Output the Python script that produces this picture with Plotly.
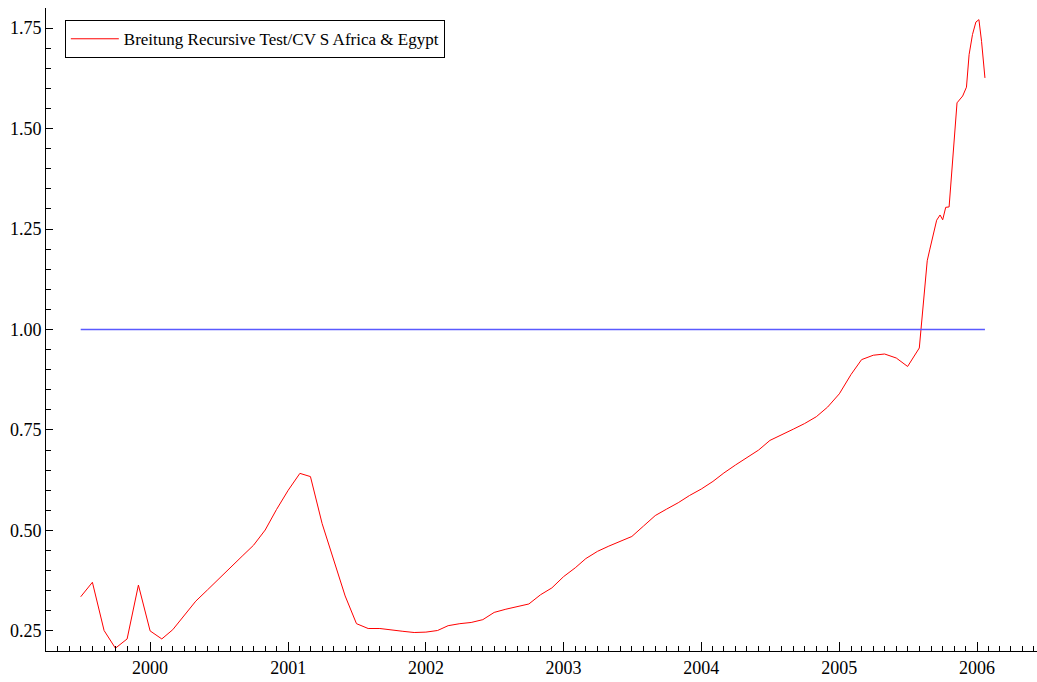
import plotly.graph_objects as go

# monthly readings first, then the denser readings at the end of the sample
dates = [
    "1999-07-01", "1999-08-01", "1999-09-01", "1999-10-01", "1999-11-01", "1999-12-01",
    "2000-01-01", "2000-02-01", "2000-03-01", "2000-04-01", "2000-05-01", "2000-06-01",
    "2000-07-01", "2000-08-01", "2000-09-01", "2000-10-01", "2000-11-01", "2000-12-01",
    "2001-01-01", "2001-02-01", "2001-03-01", "2001-04-01", "2001-05-01", "2001-06-01",
    "2001-07-01", "2001-08-01", "2001-09-01", "2001-10-01", "2001-11-01", "2001-12-01",
    "2002-01-01", "2002-02-01", "2002-03-01", "2002-04-01", "2002-05-01", "2002-06-01",
    "2002-07-01", "2002-08-01", "2002-09-01", "2002-10-01", "2002-11-01", "2002-12-01",
    "2003-01-01", "2003-02-01", "2003-03-01", "2003-04-01", "2003-05-01", "2003-06-01",
    "2003-07-01", "2003-08-01", "2003-09-01", "2003-10-01", "2003-11-01", "2003-12-01",
    "2004-01-01", "2004-02-01", "2004-03-01", "2004-04-01", "2004-05-01", "2004-06-01",
    "2004-07-01", "2004-08-01", "2004-09-01", "2004-10-01", "2004-11-01", "2004-12-01",
    "2005-01-01", "2005-02-01", "2005-03-01", "2005-04-01", "2005-05-01", "2005-06-01",
    "2005-07-01", "2005-08-01",
    "2005-08-22", "2005-08-29", "2005-09-04", "2005-09-16", "2005-09-25", "2005-10-02",
    "2005-10-10", "2005-10-19", "2005-11-09", "2005-11-24", "2005-12-04", "2005-12-11",
    "2005-12-20", "2005-12-29", "2006-01-06", "2006-01-13", "2006-01-22",
]

breitung = [
    0.335, 0.371, 0.251, 0.207, 0.230, 0.364,
    0.250, 0.230, 0.253, 0.290, 0.324, 0.352,
    0.380, 0.408, 0.436, 0.463, 0.501, 0.552,
    0.600, 0.642, 0.634, 0.517, 0.427, 0.337,
    0.268, 0.256, 0.256, 0.252, 0.249, 0.246,
    0.247, 0.251, 0.263, 0.268, 0.271, 0.278,
    0.296, 0.304, 0.311, 0.317, 0.340, 0.357,
    0.385, 0.407, 0.430, 0.448, 0.461, 0.473,
    0.485, 0.511, 0.537, 0.553, 0.569, 0.587,
    0.603, 0.622, 0.643, 0.663, 0.681, 0.700,
    0.724, 0.739, 0.752, 0.766, 0.783, 0.807,
    0.840, 0.888, 0.925, 0.936, 0.939, 0.929,
    0.908, 0.954,
    1.171, 1.200, 1.225, 1.272, 1.285, 1.273,
    1.304, 1.305, 1.564, 1.581, 1.603, 1.684,
    1.734, 1.765, 1.771, 1.717, 1.626,
]

critical_value = 1.0
series_name = "Breitung Recursive Test/CV S Africa & Egypt"

fig = go.Figure()
fig.add_trace(
    go.Scatter(
        x=dates,
        y=breitung,
        mode="lines",
        name=series_name,
        line=dict(color="#ff0000", width=1),
    )
)
fig.add_trace(
    go.Scatter(
        x=[dates[0], dates[-1]],
        y=[critical_value, critical_value],
        mode="lines",
        showlegend=False,
        line=dict(color="#5a5aff", width=1.4),
    )
)

fig.update_layout(
    width=1037,
    height=682,
    autosize=False,
    margin=dict(l=46, r=0, t=8, b=31),
    paper_bgcolor="white",
    plot_bgcolor="white",
    font=dict(family="Liberation Serif", size=18, color="black"),
    legend=dict(
        x=0.019,
        y=0.981,
        xanchor="left",
        yanchor="top",
        bordercolor="black",
        borderwidth=1,
        bgcolor="white",
        itemwidth=48,
        font=dict(size=17),
    ),
    xaxis=dict(
        type="date",
        range=["1999-03-31", "2006-06-09"],
        automargin=False,
        showline=True,
        linecolor="black",
        linewidth=1,
        showgrid=False,
        zeroline=False,
        ticks="inside",
        ticklen=9,
        tickcolor="black",
        tick0="2000-01-01",
        dtick="M12",
        tickformat="%Y",
        minor=dict(ticks="inside", ticklen=5, tickcolor="black", dtick="M1", showgrid=False),
    ),
    yaxis=dict(
        range=[0.2, 1.8],
        automargin=False,
        showline=True,
        linecolor="black",
        linewidth=1,
        showgrid=False,
        zeroline=False,
        ticks="inside",
        ticklen=7,
        tickcolor="black",
        tick0=0.25,
        dtick=0.25,
        tickformat=".2f",
        minor=dict(ticks="inside", ticklen=5, tickcolor="black", tick0=0.25, dtick=0.05, showgrid=False),
    ),
)

# the page body has a default 8px margin; drop it so the figure fills the window
fig.write_html(
    "out.html",
    config={"displayModeBar": False},
    post_script="document.body.style.margin = '0';",
)
